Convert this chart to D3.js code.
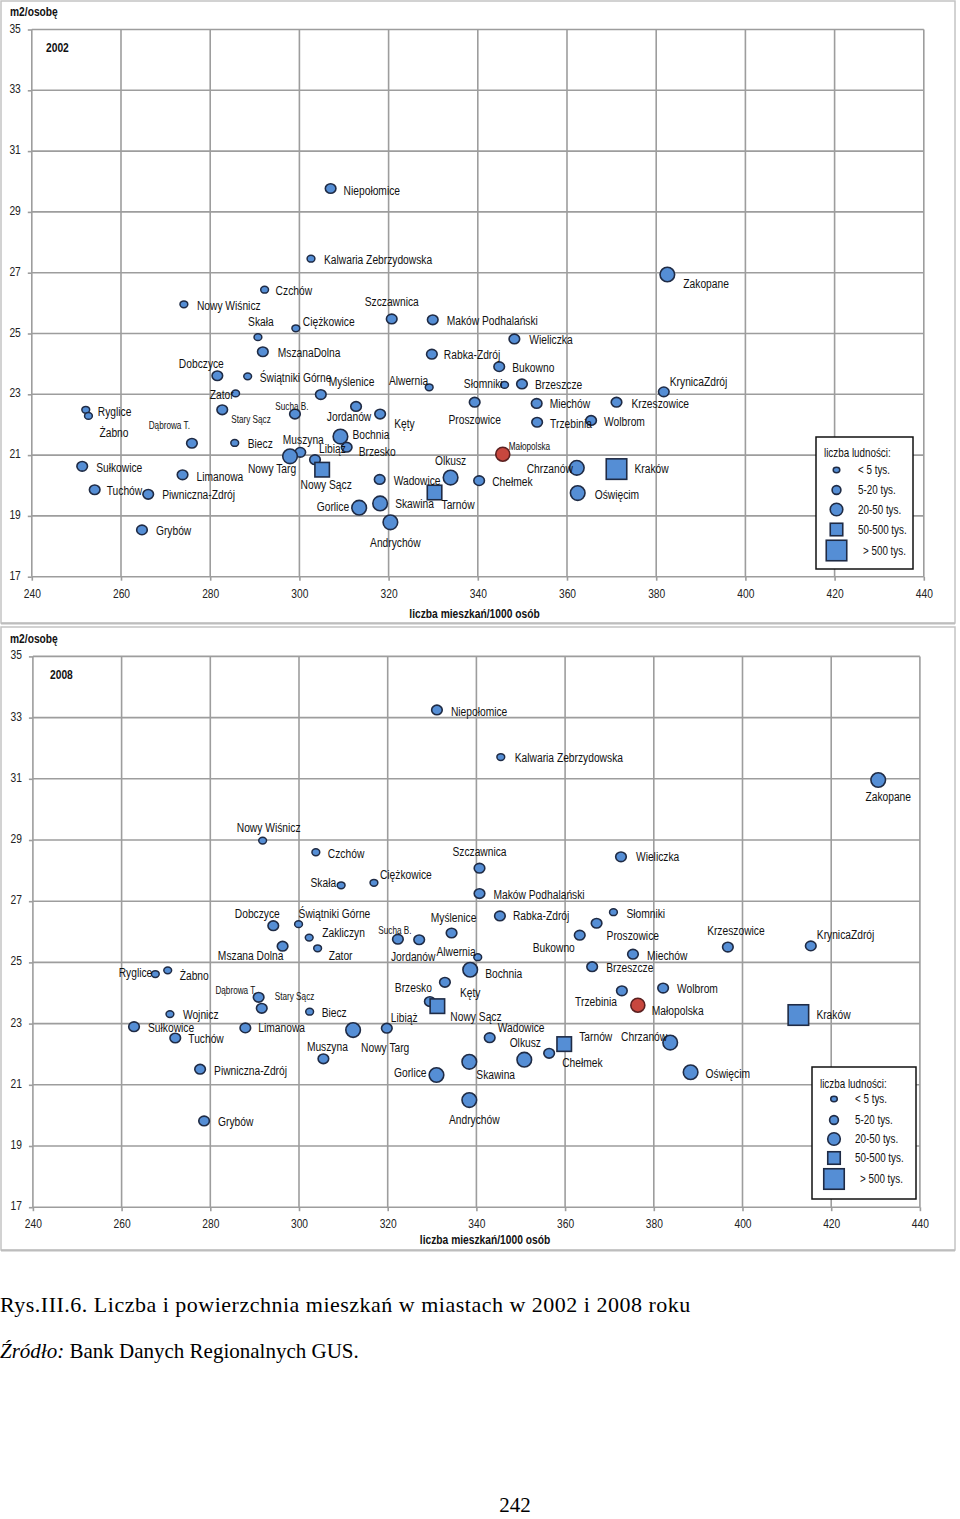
<!DOCTYPE html>
<html><head><meta charset="utf-8">
<script src="https://cdn.jsdelivr.net/npm/d3@7"></script>
<style>body{margin:0;background:#fff} svg{display:block}</style>
</head><body>
<svg id="c" width="960" height="1519"></svg>
<script>
// ---------- data ----------
const xTicks = [240,260,280,300,320,340,360,380,400,420,440];
const yTicks = [17,19,21,23,25,27,29,31,33,35];
const legendTitle = "liczba ludności:";
const legendLabels = ["< 5 tys.","5-20 tys.","20-50 tys.","50-500  tys.","> 500 tys."];
const xTitle = "liczba mieszkań/1000 osób";
const yTitle = "m2/osobę";
// population class: 0 <5k, 1 5-20k, 2 20-50k, 3 50-500k, 4 >500k, 5 = Małopolska (average)

const towns2002 = ["Niepołomice","Kalwaria Zebrzydowska","Zakopane","Czchów","Nowy Wiśnicz","Skała","Ciężkowice","Szczawnica","Maków Podhalański","Wieliczka","MszanaDolna","Rabka-Zdrój","Bukowno","Dobczyce","Świątniki Górne","Myślenice","Alwernia","Słomniki","Brzeszcze","KrynicaZdrój","Zator","Stary Sącz","Sucha B.","Jordanów","Kęty","Proszowice","Miechów","Krzeszowice","Trzebinia","Wolbrom","Ryglice","Żabno","Dąbrowa T.","Biecz","Bochnia","Brzesko","Muszyna","Nowy Targ","Libiąż","Małopolska","Sułkowice","Chrzanów","Kraków","Nowy Sącz","Limanowa","Wadowice","Olkusz","Chełmek","Tuchów","Piwniczna-Zdrój","Tarnów","Oświęcim","Skawina","Gorlice","Andrychów","Grybów"];
const flats2002 = [307.0,302.6,382.5,292.2,274.1,290.7,299.2,320.7,329.9,348.2,291.8,329.7,344.8,281.6,288.4,304.8,329.1,346.0,349.9,381.7,285.7,282.7,299.0,312.7,318.1,339.3,353.2,371.1,353.3,365.4,252.1,252.7,275.9,285.5,309.2,310.6,300.2,297.9,303.5,345.6,251.3,362.2,371.1,305.1,273.8,318.0,333.9,340.3,254.1,266.1,330.3,362.4,318.1,313.4,320.4,264.7];
const area2002 = [29.77,27.46,26.94,26.44,25.96,24.88,25.17,25.48,25.45,24.82,24.40,24.32,23.91,23.61,23.59,22.99,23.23,23.31,23.34,23.08,23.03,22.49,22.35,22.60,22.35,22.74,22.70,22.74,22.08,22.14,22.49,22.29,21.39,21.40,21.61,21.26,21.09,20.96,20.85,21.03,20.63,20.58,20.54,20.52,20.35,20.20,20.26,20.16,19.86,19.71,19.77,19.75,19.41,19.27,18.79,18.54];
const pop2002 = [1,0,2,0,0,0,0,1,1,1,1,1,1,1,0,1,0,0,1,1,0,1,1,1,1,1,1,1,1,1,0,0,1,0,2,1,1,2,1,5,1,2,4,3,1,1,2,1,1,1,3,2,2,2,2,1];

const towns2008 = ["Niepołomice","Kalwaria Zebrzydowska","Zakopane","Nowy Wiśnicz","Czchów","Skała","Ciężkowice","Szczawnica","Maków Podhalański","Wieliczka","Dobczyce","Świątniki Górne","Zakliczyn","Mszana Dolna","Zator","Sucha B.","Jordanów","Myślenice","Alwernia","Rabka-Zdrój","Słomniki","Proszowice","Bukowno","Miechów","Krzeszowice","KrynicaZdrój","Brzeszcze","Ryglice","Żabno","Bochnia","Kęty","Dąbrowa T.","Stary Sącz","Wolbrom","Trzebinia","Brzesko","Nowy Sącz","Małopolska","Biecz","Wojnicz","Kraków","Sułkowice","Limanowa","Libiąż","Nowy Targ","Wadowice","Tuchów","Tarnów","Chrzanów","Chełmek","Muszyna","Olkusz","Skawina","Piwniczna-Zdrój","Oświęcim","Gorlice","Andrychów","Grybów"];
const flats2008 = [331.1,345.5,430.6,291.8,303.8,309.5,316.9,340.7,340.7,372.6,294.2,299.9,302.3,296.3,304.2,322.3,327.1,334.4,340.3,345.3,370.9,367.1,363.3,375.3,396.7,415.4,366.1,267.6,270.4,338.6,332.9,290.9,291.6,382.1,372.8,329.5,331.2,376.4,302.4,270.9,412.6,262.8,287.9,319.8,312.2,343.0,272.1,359.8,383.7,356.4,305.5,350.8,338.4,277.7,388.3,331.0,338.4,278.6];
const area2008 = [33.25,31.71,30.96,28.98,28.60,27.52,27.60,28.08,27.25,28.45,26.20,26.25,25.81,25.53,25.46,25.76,25.74,25.96,25.17,26.52,26.64,26.28,25.89,25.27,25.50,25.54,24.86,24.62,24.74,24.76,24.35,23.86,23.50,24.16,24.07,23.72,23.57,23.60,23.39,23.31,23.28,22.90,22.86,22.85,22.79,22.54,22.53,22.33,22.38,22.03,21.85,21.82,21.75,21.51,21.41,21.32,20.50,19.82];
const pop2008 = [1,0,2,0,0,0,0,1,1,1,1,0,0,1,0,1,1,1,0,1,0,1,1,1,1,1,1,0,0,2,1,1,1,1,1,1,3,5,0,0,4,1,1,1,2,1,1,3,2,1,1,2,2,1,2,2,2,1];

// ---------- layout (label placement: anchor, dx, dy, small font) ----------
const labels2002 = {
 "Niepołomice":["s",13,2],"Kalwaria Zebrzydowska":["s",13,1],"Zakopane":["s",16,9],"Czchów":["s",11,1],
 "Nowy Wiśnicz":["s",13,1],"Skała":["m",3,-16],"Ciężkowice":["s",7,-7],"Szczawnica":["m",0,-17],
 "Maków Podhalański":["s",14,1],"Wieliczka":["s",15,1],"MszanaDolna":["s",15,1],"Rabka-Zdrój":["s",12,0],
 "Bukowno":["s",13,1],"Dobczyce":["m",-16,-12],"Świątniki Górne":["s",12,1],"Myślenice":["s",8,-13],
 "Alwernia":["e",-1,-7],"Słomniki":["e",-2,-1],"Brzeszcze":["s",13,1],"KrynicaZdrój":["s",6,-10],
 "Zator":["e",-2,1],"Stary Sącz":["s",9,10,1],"Sucha B.":["m",-3,-7,1],"Jordanów":["m",-7,10],
 "Kęty":["s",14,10],"Proszowice":["m",0,17],"Miechów":["s",13,0],"Krzeszowice":["s",15,1],
 "Trzebinia":["s",13,1],"Wolbrom":["s",13,1],"Ryglice":["s",12,2],"Żabno":["s",11,17],
 "Dąbrowa T.":["e",-2,-18,1],"Biecz":["s",13,1],"Bochnia":["s",12,-2],"Brzesko":["s",12,4],
 "Muszyna":["m",3,-13],"Nowy Targ":["m",-18,12],"Libiąż":["s",4,-11],"Małopolska":["s",6,-7,1],
 "Sułkowice":["s",14,1],"Chrzanów":["e",-4,1],"Kraków":["s",18,0],"Nowy Sącz":["m",4,15],
 "Limanowa":["s",14,2],"Wadowice":["s",14,1],"Olkusz":["m",0,-17],"Chełmek":["s",13,1],
 "Tuchów":["s",12,1],"Piwniczna-Zdrój":["s",14,0],"Tarnów":["s",7,12],"Oświęcim":["s",17,2],
 "Skawina":["s",15,0],"Gorlice":["e",-10,-1],"Andrychów":["m",5,20],"Grybów":["s",14,1]
};
const labels2008 = {
 "Niepołomice":["s",14,2],"Kalwaria Zebrzydowska":["s",14,1],"Zakopane":["m",10,17],"Nowy Wiśnicz":["m",6,-13],
 "Czchów":["s",12,1],"Skała":["e",-5,-3],"Ciężkowice":["s",6,-8],"Szczawnica":["m",0,-17],
 "Maków Podhalański":["s",14,1],"Wieliczka":["s",15,0],"Dobczyce":["m",-16,-12],"Świątniki Górne":["s",0,-11],
 "Zakliczyn":["s",13,-5],"Mszana Dolna":["m",-32,9],"Zator":["s",11,7],"Sucha B.":["m",-3,-8,1],
 "Jordanów":["m",-6,17],"Myślenice":["m",2,-15],"Alwernia":["e",-2,-6],"Rabka-Zdrój":["s",13,0],
 "Słomniki":["s",13,1],"Proszowice":["s",10,12],"Bukowno":["m",-26,12],"Miechów":["s",14,1],
 "Krzeszowice":["m",8,-16],"KrynicaZdrój":["s",6,-11],"Brzeszcze":["s",14,1],"Ryglice":["e",-3,-1],
 "Żabno":["s",12,5],"Bochnia":["s",15,4],"Kęty":["s",15,10],"Dąbrowa T.":["e",-2,-7,1],
 "Stary Sącz":["s",13,-12,1],"Wolbrom":["s",14,1],"Trzebinia":["e",-5,11],"Brzesko":["e",2,-14],
 "Nowy Sącz":["s",13,10],"Małopolska":["s",14,5],"Biecz":["s",12,1],"Wojnicz":["s",13,1],
 "Kraków":["s",18,0],"Sułkowice":["s",14,1],"Limanowa":["s",13,0],"Libiąż":["s",4,-11],
 "Nowy Targ":["s",8,18],"Wadowice":["s",8,-10],"Tuchów":["s",13,1],"Tarnów":["s",15,-7],
 "Chrzanów":["e",-3,-6],"Chełmek":["s",13,9],"Muszyna":["m",4,-12],"Olkusz":["m",1,-17],
 "Skawina":["s",7,13],"Piwniczna-Zdrój":["s",14,1],"Oświęcim":["s",15,1],"Gorlice":["e",-10,-2],
 "Andrychów":["m",5,20],"Grybów":["s",14,1]
};

const panels = [
 {year:"2002", towns:towns2002, xs:flats2002, ys:area2002, pop:pop2002, labels:labels2002,
  left:31.8, right:923.8, top:29.5, bottom:576.7, frame:[1,1,955,623],
  yTitleY:12, yearXY:[46,48], xTitleXY:[474.5,614],
  legend:{x:816,y:437,w:97,h:132,titleY:453,mx:836.5,tx:858,rows:[470,490,509.5,529.5,550.5]}},
 {year:"2008", towns:towns2008, xs:flats2008, ys:area2008, pop:pop2008, labels:labels2008,
  left:32.9, right:919.9, top:656.4, bottom:1207.2, frame:[1,627,955,1250],
  yTitleY:639, yearXY:[50,675], xTitleXY:[485,1240],
  legend:{x:812,y:1067,w:104,h:132,titleY:1084,mx:834,tx:855,rows:[1099,1120,1139,1158,1179]}}
];

// ---------- drawing ----------
const svg = d3.select("#c");
function probe(fam){const t=svg.append("text").attr("font-family",fam).attr("font-size",50).text("Nowy Wiśnicz Kraków 2002");const w=t.node().getComputedTextLength();t.remove();return w;}
const hasNarrow = Math.abs(probe("'Liberation Sans Narrow', 'DejaVu Serif'") - probe("'DejaVu Serif'")) > 1;
const SANS = hasNarrow ? "'Liberation Sans Narrow', sans-serif" : "'Liberation Sans', Arial, sans-serif";
const SX = hasNarrow ? 1 : 0.82;
const FILL = "#558ed5", STROKE = "#1f2b45", RED = "#c8473e", GRID = "#9d9d9d";

function txt(g, x, y, s, o={}) {
  return g.append("text")
    .attr("transform", `translate(${x},${y}) scale(${SX},1)`)
    .attr("font-family", SANS).attr("font-size", o.size||12.5)
    .attr("font-weight", o.bold?"bold":null)
    .attr("text-anchor", o.anchor||"start")
    .attr("dominant-baseline", "central")
    .attr("fill", "#111").text(s);
}

function marker(g, cls, cx, cy, legend) {
  const L = legend;
  if (cls === 0) g.append("ellipse").attr("cx",cx).attr("cy",cy).attr("rx",L?3.3:3.9).attr("ry",L?2.7:3.4)
      .attr("fill",FILL).attr("stroke",STROKE).attr("stroke-width",1.5);
  else if (cls === 1) g.append("ellipse").attr("cx",cx).attr("cy",cy).attr("rx",L?4.4:5.3).attr("ry",L?4.4:4.8)
      .attr("fill",FILL).attr("stroke",STROKE).attr("stroke-width",1.6);
  else if (cls === 2) g.append("circle").attr("cx",cx).attr("cy",cy).attr("r",L?6.3:7.3)
      .attr("fill",FILL).attr("stroke",STROKE).attr("stroke-width",1.6);
  else if (cls === 3 || cls === 4) { const s = cls===3 ? (L?12.5:14.5) : 20.5;
      g.append("rect").attr("x",cx-s/2).attr("y",cy-s/2).attr("width",s).attr("height",s)
      .attr("fill",FILL).attr("stroke",STROKE).attr("stroke-width",1.6); }
  else g.append("circle").attr("cx",cx).attr("cy",cy).attr("r",7)
      .attr("fill",RED).attr("stroke","#5a2020").attr("stroke-width",1.6);
}

panels.forEach(p => {
  const g = svg.append("g");
  const [fx,fy,fx2,fy2] = p.frame;
  g.append("rect").attr("x",fx).attr("y",fy).attr("width",fx2-fx).attr("height",fy2-fy)
    .attr("fill","#fff").attr("stroke","#c4c4c4").attr("stroke-width",1.5);
  g.append("line").attr("x1",fx).attr("x2",fx2).attr("y1",fy2+0.5).attr("y2",fy2+0.5)
    .attr("stroke","#bdbdbd").attr("stroke-width",2);

  const x = d3.scaleLinear().domain([240,440]).range([p.left,p.right]);
  const y = d3.scaleLinear().domain([17,35]).range([p.bottom,p.top]);

  // grid
  g.append("g").selectAll("line.v").data(xTicks).join("line")
    .attr("x1",d=>x(d)).attr("x2",d=>x(d)).attr("y1",p.top).attr("y2",p.bottom)
    .attr("stroke",GRID).attr("stroke-width",1.6);
  g.append("g").selectAll("line.h").data(yTicks).join("line")
    .attr("x1",p.left).attr("x2",p.right).attr("y1",d=>y(d)).attr("y2",d=>y(d))
    .attr("stroke",GRID).attr("stroke-width",1.6);

  // axes
  const ax = g.append("g").attr("transform",`translate(0,${p.bottom})`)
    .call(d3.axisBottom(x).tickValues(xTicks).tickSize(4).tickPadding(8).tickFormat(d3.format("d")));
  const ay = g.append("g").attr("transform",`translate(${p.left},0)`)
    .call(d3.axisLeft(y).tickValues(yTicks).tickSize(4).tickPadding(7).tickFormat(d3.format("d")));
  [ax,ay].forEach(a => {
    a.select(".domain").remove();
    a.selectAll(".tick line").attr("stroke",GRID).attr("stroke-width",1.6);
    a.selectAll(".tick text").attr("font-family",SANS).attr("font-size",12.5).attr("fill","#222");
  });
  ax.selectAll(".tick text").attr("transform",`scale(${SX},1)`);
  ay.selectAll(".tick text").attr("x",-11/SX).attr("dy","0.2em").attr("transform",`scale(${SX},1)`);

  // titles
  txt(g, 10, p.yTitleY, yTitle, {bold:true, size:12.5});
  txt(g, p.yearXY[0], p.yearXY[1], p.year, {bold:true, size:12.5});
  txt(g, p.xTitleXY[0], p.xTitleXY[1], xTitle, {bold:true, size:12.5, anchor:"middle"});

  // points
  const pts = g.append("g");
  p.towns.forEach((name,i) => marker(pts, p.pop[i], x(p.xs[i]), y(p.ys[i]), false));
  const lab = g.append("g");
  p.towns.forEach((name,i) => {
    const L = p.labels[name] || ["s",12,0];
    const anchor = L[0]==="s"?"start":L[0]==="e"?"end":"middle";
    txt(lab, x(p.xs[i])+L[1], y(p.ys[i])+L[2], name, {anchor, size: L[3]?10:12.5});
  });

  // legend
  const lg = p.legend;
  g.append("rect").attr("x",lg.x).attr("y",lg.y).attr("width",lg.w).attr("height",lg.h)
    .attr("fill","#fff").attr("stroke","#111").attr("stroke-width",1.5);
  txt(g, lg.x+8, lg.titleY, legendTitle, {size:12});
  legendLabels.forEach((t,k) => {
    marker(g, k, lg.mx, lg.rows[k], true);
    txt(g, lg.tx + (k===4?5:0), lg.rows[k], t, {size:12});
  });
});

// caption
const SERIF = "'Liberation Serif','Times New Roman',serif";
svg.append("text").attr("x",0).attr("y",1312).attr("font-family",SERIF).attr("font-size",22)
  .attr("letter-spacing",0.5).attr("fill","#000")
  .text("Rys.III.6. Liczba i powierzchnia mieszkań w miastach w 2002 i 2008 roku");
const src = svg.append("text").attr("x",0).attr("y",1358).attr("font-family",SERIF).attr("font-size",21).attr("fill","#000");
src.append("tspan").attr("font-style","italic").text("Źródło:");
src.append("tspan").text(" Bank Danych Regionalnych GUS.");
svg.append("text").attr("x",515).attr("y",1512).attr("text-anchor","middle").attr("font-family",SERIF)
  .attr("font-size",21).attr("fill","#000").text("242");
</script>
</body></html>
